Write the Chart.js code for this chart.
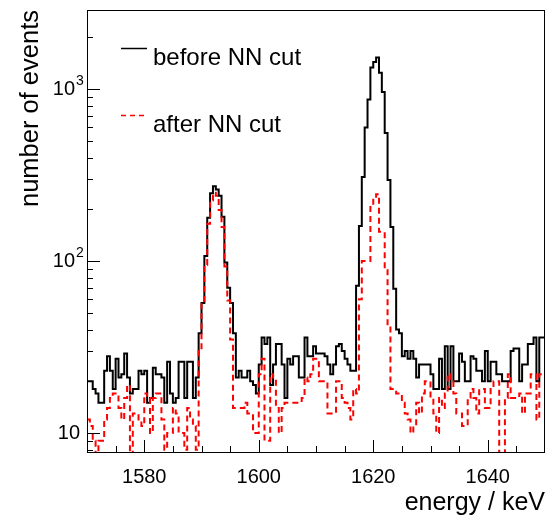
<!DOCTYPE html>
<html><head><meta charset="utf-8">
<script src="https://cdn.jsdelivr.net/npm/chart.js@4.4.1/dist/chart.umd.min.js"></script>
<style>html,body{margin:0;padding:0;background:#fff;overflow:hidden}</style>
</head><body>
<canvas id="c" width="546" height="520"></canvas>
<script>
// Histogram binning (keV)
const binStart = 1570;
const binWidth = 0.5;
// Counts per 0.5 keV bin, 1570-1650 keV
const countsBefore = [
 20,20,20,18,17,15,15,23,28,23,
 18,27,21,22,29,21,17,18,18,23,
 22,23,15,16,24,22,22,21,15,26,
 17,15,16,26,26,16,26,26,16,21,
 38,57,107,179,248,273,261,240,181,98,
 70,57,38,21,23,21,21,23,20,19,
 17,25,36,33,36,19,25,33,33,25,
 16,27,25,28,28,21,21,36,28,28,
 32,29,29,29,28,25,22,25,32,33,
 30,27,25,23,23,72,160,309,599,871,
 1340,1440,1530,1245,964,557,296,158,69,40,
 38,28,30,27,30,27,21,25,25,25,
 25,22,18,18,27,18,32,18,32,20,
 20,29,26,20,20,28,27,23,23,20,
 30,20,26,26,22,22,20,20,20,30,
 31,31,20,25,25,33,33,36,20,36
];
const countsAfter = [
 12,12,11,9,7,9,9,12,14,16,
 17,17,14,12,16,19,7,13,13,12,
 11,17,16,10,16,17,17,12,8,10,
 10,14,13,10,10,8,14,12,11,8,
 30,57,95,165,225,250,240,198,158,93,
 59,35,14,14,14,14,15,13,13,10,
 10,22,27,9,9,22,21,14,10,14,
 15,15,15,15,15,15,16,21,20,22,
 27,27,20,20,20,13,13,13,20,20,
 16,15,14,12,18,17,60,100,100,100,
 212,232,245,148,148,91,42,18,18,17,
 17,15,13,12,10,11,15,13,17,20,
 20,16,13,10,16,14,17,22,20,17,
 13,13,11,11,16,18,16,13,18,18,
 14,14,18,20,20,7,7,16,22,16,
 16,16,17,13,17,17,22,22,12,22
];
const seriesLabels = ['before NN cut', 'after NN cut'];
const xTickLabels = [1580, 1600, 1620, 1640];
const xMinorTicks = [1575,1580,1585,1590,1595,1600,1605,1610,1615,1620,1625,1630,1635,1640,1645];
const yMajorTicks = [10, 100, 1000];
const yMajorExp = ['', '2', '3'];
const yMinorTicks = [8,9,20,30,40,50,60,70,80,90,200,300,400,500,600,700,800,900,2000];
const xTitle = 'energy / keV';
const yTitle = 'number of events';

function toSteps(counts) {
  const pts = counts.map((c, i) => ({x: binStart + i * binWidth, y: c}));
  pts.push({x: binStart + counts.length * binWidth, y: counts[counts.length - 1]});
  return pts;
}

const FONT = '"Liberation Sans", Arial, Helvetica, sans-serif';

const rootStyle = {
  id: 'rootStyle',
  afterDatasetsDraw(chart) {
    const {ctx, chartArea: a, scales: {x, y}} = chart;
    ctx.save();
    ctx.strokeStyle = '#000';
    ctx.lineWidth = 1;
    ctx.setLineDash([]);
    ctx.strokeRect(Math.round(a.left) + 0.5, Math.round(a.top) + 0.5,
      Math.round(a.right - a.left) - 1, Math.round(a.bottom - a.top) - 1);
    ctx.beginPath();
    xMinorTicks.forEach(v => {
      const px = Math.round(x.getPixelForValue(v)) + 0.5;
      const len = xTickLabels.includes(v) ? 13 : 7;
      ctx.moveTo(px, a.bottom); ctx.lineTo(px, a.bottom - len);
    });
    yMajorTicks.forEach(v => {
      const py = Math.round(y.getPixelForValue(v)) + 0.5;
      ctx.moveTo(a.left, py); ctx.lineTo(a.left + 13, py);
    });
    yMinorTicks.forEach(v => {
      const py = Math.round(y.getPixelForValue(v)) + 0.5;
      ctx.moveTo(a.left, py); ctx.lineTo(a.left + 6, py);
    });
    ctx.stroke();

    // y tick labels with superscript exponents
    ctx.fillStyle = '#000';
    ctx.textBaseline = 'middle';
    yMajorTicks.forEach((v, i) => {
      const py = y.getPixelForValue(v);
      const exp = yMajorExp[i];
      if (!exp) {
        ctx.font = '20px ' + FONT; ctx.textAlign = 'right';
        ctx.fillText('10', a.left - 7, py);
      } else {
        ctx.font = '20px ' + FONT; ctx.textAlign = 'right';
        ctx.fillText('10', a.left - 12, py);
        ctx.font = '14px ' + FONT; ctx.textAlign = 'left';
        ctx.fillText(exp, a.left - 11, py - 8);
      }
    });

    // legend
    ctx.lineWidth = 1.5;
    ctx.strokeStyle = '#000';
    ctx.beginPath(); ctx.moveTo(121, 48.5); ctx.lineTo(147, 48.5); ctx.stroke();
    ctx.strokeStyle = '#ff0000';
    ctx.setLineDash([5, 4]);
    ctx.beginPath(); ctx.moveTo(121, 115.5); ctx.lineTo(147, 115.5); ctx.stroke();
    ctx.setLineDash([]);
    ctx.font = '24px ' + FONT; ctx.textAlign = 'left'; ctx.textBaseline = 'middle';
    ctx.fillStyle = '#000';
    ctx.fillText(seriesLabels[0], 153, 58);
    ctx.fillText(seriesLabels[1], 153, 125);
    ctx.restore();
  }
};

new Chart(document.getElementById('c'), {
  type: 'line',
  data: {
    datasets: [
      {label: seriesLabels[1], data: toSteps(countsAfter), borderColor: '#ff0000', borderWidth: 2,
       borderDash: [6, 4], stepped: 'after', pointRadius: 0, fill: false, order: 0},
      {label: seriesLabels[0], data: toSteps(countsBefore), borderColor: '#000000', borderWidth: 2,
       stepped: 'after', pointRadius: 0, fill: false, order: 1}
    ]
  },
  options: {
    responsive: false,
    animation: false,
    devicePixelRatio: 1,
    layout: {padding: {top: 10, right: 1, left: 0, bottom: 0}},
    plugins: {legend: {display: false}, tooltip: {enabled: false}},
    scales: {
      x: {
        type: 'linear', min: 1570, max: 1650,
        grid: {display: false, drawTicks: false},
        border: {display: false},
        afterBuildTicks: s => { s.ticks = xTickLabels.map(v => ({value: v})); },
        afterFit: s => { s.height = 67; },
        ticks: {font: {size: 20, family: FONT}, color: '#000', padding: 12, maxRotation: 0, autoSkip: false,
                callback: v => String(v)},
        title: {display: true, text: xTitle, align: 'end', color: '#000',
                font: {size: 25, family: FONT}, padding: {top: 3, bottom: 2}}
      },
      y: {
        type: 'logarithmic', min: 7.65, max: 2890,
        grid: {display: false, drawTicks: false},
        border: {display: false},
        ticks: {display: false},
        afterFit: s => { s.width = 87; },
        title: {display: true, text: yTitle, align: 'end', color: '#000',
                font: {size: 25.5, family: FONT}, padding: {top: 16, bottom: 0}}
      }
    }
  },
  plugins: [rootStyle]
});
</script>
</body></html>
